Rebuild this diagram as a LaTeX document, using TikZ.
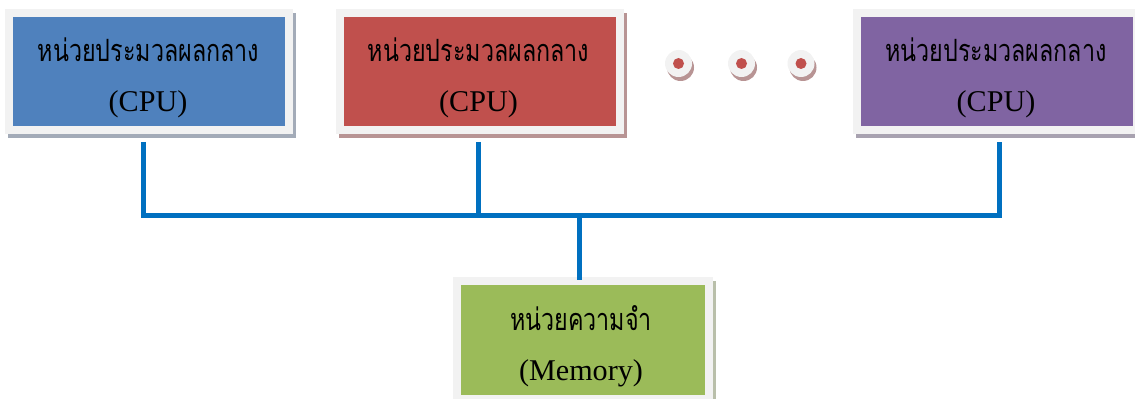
\documentclass[tikz,border=0pt]{standalone}
\usepackage{fontspec}
\setmainfont{Liberation Serif}
\newfontfamily\thaifont[Script=Thai, FakeStretch=0.76]{Loma}
\usetikzlibrary{backgrounds,calc}
\definecolor{framegray}{HTML}{F2F2F2}
\definecolor{cpublue}{HTML}{4F81BD}
\definecolor{cpured}{HTML}{C0504D}
\definecolor{cpupurple}{HTML}{8064A2}
\definecolor{memgreen}{HTML}{9BBB59}
\definecolor{shblue}{HTML}{A3ABB8}
\definecolor{shred}{HTML}{B89494}
\definecolor{shpurple}{HTML}{A8A2B0}
\definecolor{shgreen}{HTML}{B9BFAA}
\definecolor{buscol}{HTML}{0070C0}
\begin{document}
\begin{tikzpicture}[x=0.75pt,y=-0.75pt,
  unitbox/.style={draw=framegray, line width=6pt, inner sep=0pt, outer sep=3pt,
    minimum width=210pt, minimum height=87.75pt},
  membox/.style={unitbox, minimum width=189pt, minimum height=88.5pt},
  thaitext/.style={anchor=base, inner sep=0pt, font=\fontsize{23}{26}\thaifont},
  lattext/.style={anchor=base, inner sep=0pt, font=\fontsize{22.6}{26}\selectfont},
  bus/.style={draw=buscol, line width=3.75pt, line join=miter},
  dotouter/.style={circle, fill=framegray, minimum size=20.25pt, inner sep=0pt},
  dotinner/.style={circle, fill=cpured, minimum size=8.25pt, inner sep=0pt}]
\useasboundingbox (0,0) rectangle (1135,399);

% boxes
\node[unitbox, fill=cpublue] (cpu1) at (149,71.5) {};
\node[unitbox, fill=cpured] (cpu2) at (479.5,71.5) {};
\node[unitbox, fill=cpupurple] (cpu3) at (997,71.5) {};
\node[membox, fill=memgreen] (mem) at (583,340) {};

% texts
\node[thaitext] (t1) at (148.5,62) {หน่วยประมวลผลกลาง};
\node[lattext] (c1) at (148,112) {(CPU)};
\node[thaitext] (t2) at (478.5,62) {หน่วยประมวลผลกลาง};
\node[lattext] (c2) at (478.5,112) {(CPU)};
\node[thaitext] (t3) at (996,62) {หน่วยประมวลผลกลาง};
\node[lattext] (c3) at (996,112) {(CPU)};
\node[thaitext] (tm) at (581,330) {หน่วยความจำ};
\node[lattext] (cm) at (581,380) {(Memory)};

% dots
\foreach \i/\x in {1/678.5, 2/741.5, 3/801} {
  \node[dotouter] (d\i) at (\x,63.5) {};
  \node[dotinner] (r\i) at (d\i.center) {};
}

% shadows
\begin{scope}[on background layer]
  \fill[shblue] ($(cpu1.south west)+(3,4)$) rectangle ($(cpu1.north east)+(3,4)$);
  \fill[shred] ($(cpu2.south west)+(3,4)$) rectangle ($(cpu2.north east)+(3,4)$);
  \fill[shpurple] ($(cpu3.south west)+(3,4)$) rectangle ($(cpu3.north east)+(3,4)$);
  \fill[shgreen] ($(mem.south west)+(3,4)$) rectangle ($(mem.north east)+(3,4)$);
  \foreach \i in {1,2,3} {
    \fill[shred] ($(d\i.center)+(2,4)$) circle[radius=10.125pt];
  }
\end{scope}

% bus
\coordinate (b1) at (143.5,215.5);
\coordinate (b2) at (478.5,215.5);
\coordinate (b3) at (999.5,215.5);
\coordinate (bm) at (579.5,215.5);
\draw[bus, shorten <=6pt, shorten >=6pt] (cpu1.south -| b1) -- (b1) -- (b3) -- (cpu3.south -| b3);
\draw[bus, shorten <=6pt] (cpu2.south -| b2) -- (b2);
\draw[bus, shorten >=-2.25pt] (bm) -- (mem.north -| bm);
\end{tikzpicture}
\end{document}
